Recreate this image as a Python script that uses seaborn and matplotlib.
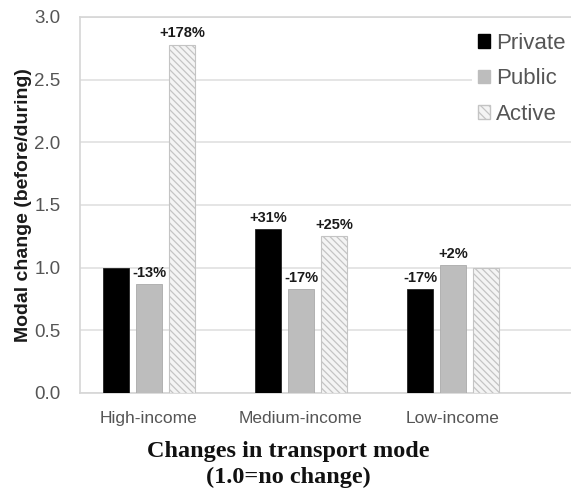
import matplotlib
matplotlib.use("Agg")
import matplotlib.pyplot as plt
from matplotlib.patches import Patch
import seaborn as sns
import pandas as pd

# Data
groups = ["High-income", "Medium-income", "Low-income"]
modes = ["Private", "Public", "Active"]
private_vals = [1.00, 1.31, 0.83]
public_vals = [0.87, 0.83, 1.02]
active_vals = [2.78, 1.25, 1.00]
private_labels = ["", "+31%", "-17%"]
public_labels = ["-13%", "-17%", "+2%"]
active_labels = ["+178%", "+25%", ""]
y_ticks = [0.0, 0.5, 1.0, 1.5, 2.0, 2.5, 3.0]

sns.set_theme(style="white")
plt.rcParams["font.family"] = ["Liberation Sans", "DejaVu Sans"]
plt.rcParams["hatch.linewidth"] = 0.9
plt.rcParams["hatch.color"] = "#c4c4c4"

rows = []
for g, p, q, a in zip(groups, private_vals, public_vals, active_vals):
    rows += [(g, "Private", p), (g, "Public", q), (g, "Active", a)]
df = pd.DataFrame(rows, columns=["group", "mode", "value"])

colors = {"Private": "#000000", "Public": "#bdbdbd", "Active": "#ffffff"}

fig = plt.figure(figsize=(5.71, 4.91), dpi=100)
ax = fig.add_axes([0.14, 0.1996, 0.86, 0.7658])

sns.barplot(data=df, x="group", y="value", hue="mode", hue_order=modes,
            order=groups, palette=colors, width=0.65, gap=0.21,
            saturation=1, legend=False, ax=ax, zorder=3)

label_sets = [private_labels, public_labels, active_labels]
for i, (cont, labels) in enumerate(zip(ax.containers, label_sets)):
    for bar in cont:
        if modes[i] == "Active":
            bar.set_hatch("\\\\\\\\\\")
            bar.set_edgecolor("#c4c4c4")
            bar.set_facecolor("#f4f4f4")
            bar.set_linewidth(0.8)
        elif modes[i] == "Private":
            bar.set_edgecolor("#222222")
            bar.set_linewidth(0.6)
        else:
            bar.set_edgecolor("#aaaaaa")
            bar.set_linewidth(0.6)
    ax.bar_label(cont, labels=labels, padding=3, fontsize=10.5,
                 fontweight="bold", color="#1a1a1a")

ax.set_ylim(0, 3.0)
ax.set_xlim(-0.454, 2.776)
ax.set_yticks(y_ticks)
ax.set_yticklabels([f"{t:.1f}" for t in y_ticks])
ax.tick_params(axis="y", length=0, pad=14, labelsize=13.5, labelcolor="#555555")
ax.tick_params(axis="x", length=0, pad=13, labelsize=12.5, labelcolor="#555555")
ax.yaxis.grid(True, color="#e0e0e0", linewidth=1.2, zorder=0)
ax.set_axisbelow(True)

for side in ["left", "top", "bottom"]:
    ax.spines[side].set_color("#d6d6d6")
    ax.spines[side].set_linewidth(1.2)
ax.spines["right"].set_visible(False)

ax.set_xlabel("")
ax.set_ylabel("Modal change (before/during)", fontsize=14,
              fontweight="bold", color="#1a1a1a")
ax.yaxis.set_label_coords(-0.097, 0.5)

handles = [
    Patch(facecolor="#000000", edgecolor="#000000", label="Private"),
    Patch(facecolor="#bdbdbd", edgecolor="#bdbdbd", label="Public"),
    Patch(facecolor="#f4f4f4", edgecolor="#c4c4c4", hatch="\\\\\\\\", label="Active"),
]
leg = ax.legend(handles=handles, loc="upper right", bbox_to_anchor=(1.025, 1.005),
                fontsize=16, frameon=True, framealpha=1, facecolor="white",
                edgecolor="none", handlelength=0.55, handleheight=0.55,
                handletextpad=0.25, labelspacing=0.65, borderpad=0.3)
for t in leg.get_texts():
    t.set_color("#555555")
leg.set_zorder(5)

fig.text(0.505, 0.053, "Changes in transport mode\n(1.0=no change)",
         ha="center", va="center", fontsize=17.5, fontweight="bold",
         family=["Liberation Serif", "DejaVu Serif"], color="#111111",
         linespacing=1.3)

fig.savefig("out.png", dpi=100)
